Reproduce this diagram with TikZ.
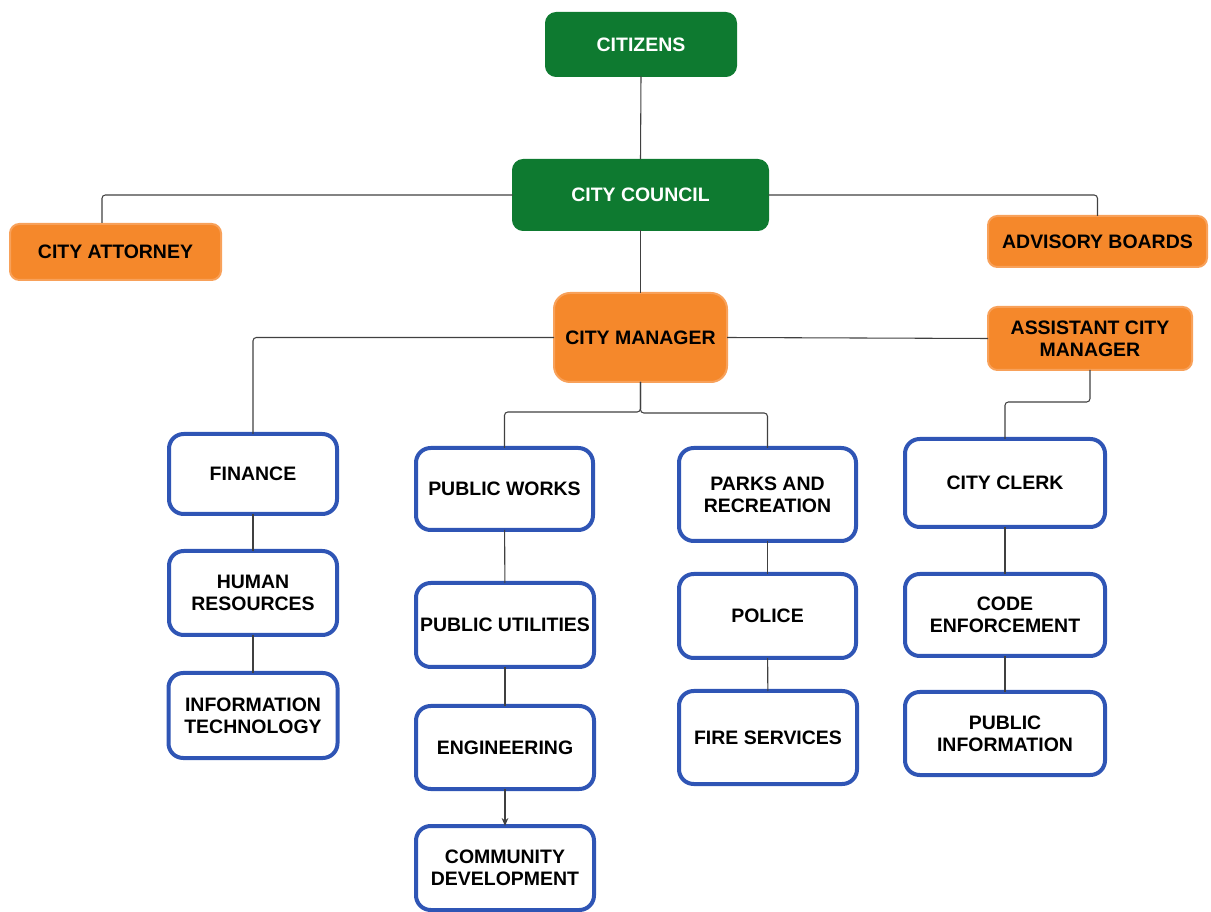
\documentclass[tikz,border=0pt]{standalone}
\usepackage{fontspec}
\setmainfont{Liberation Sans}
\usetikzlibrary{arrows.meta}
\definecolor{cgreen}{HTML}{0E7A30}
\definecolor{corange}{HTML}{F5882B}
\definecolor{corangeedge}{HTML}{F8A15A}
\definecolor{cblue}{HTML}{2F55B5}
\definecolor{cline}{HTML}{404040}
\begin{document}
\begin{tikzpicture}[x=0.75pt,y=-0.75pt,
  txt/.style={font=\fontsize{14.6pt}{16.5pt}\selectfont\bfseries, align=center, inner sep=0pt, outer sep=0pt},
  sz/.style 2 args={minimum width=#1*0.75pt, minimum height=#2*0.75pt},
  greenbox/.style={txt, fill=cgreen, text=white, rounded corners=8pt, draw=cgreen, line width=0.75pt},
  orangebox/.style={txt, fill=corange, text=black, draw=corangeedge, line width=1.5pt, rounded corners=7pt},
  bigorange/.style={orangebox, rounded corners=12pt},
  bluebox/.style={txt, fill=white, text=black, draw=cblue, line width=3pt, rounded corners=11pt},
  conn/.style={draw=cline, line width=0.8pt, rounded corners=2.5pt},
]
\useasboundingbox (0,0) rectangle (1211,912);

% top level
\node[greenbox, sz={191}{64}] (cit) at (641,44.5) {CITIZENS};
\node[greenbox, sz={256}{71}] (cou) at (640.5,195) {CITY COUNCIL};
\node[orangebox, sz={211}{56}] (att) at (115.5,252) {CITY ATTORNEY};
\node[orangebox, sz={219}{51}] (adv) at (1097.5,241.5) {ADVISORY BOARDS};
\node[bigorange, sz={173}{89}] (mgr) at (640.5,337.5) {CITY MANAGER};
\node[orangebox, sz={204}{63}] (asst) at (1090,338.5) {ASSISTANT CITY\\MANAGER};

% departments
\node[bluebox, sz={168}{80}] (fin) at (253,474) {FINANCE};
\node[bluebox, sz={168}{84}] (hr) at (253,593) {HUMAN\\RESOURCES};
\node[bluebox, sz={169}{85}] (it) at (253,715.5) {INFORMATION\\TECHNOLOGY};

\node[bluebox, sz={177}{82}] (pw) at (504.5,489) {PUBLIC WORKS};
\node[bluebox, sz={178}{84}] (pu) at (505,625) {PUBLIC UTILITIES};
\node[bluebox, sz={178}{83}] (eng) at (505,747.5) {ENGINEERING};
\node[bluebox, sz={178}{84}] (com) at (505,868) {COMMUNITY\\DEVELOPMENT};

\node[bluebox, sz={177}{93}] (par) at (767.5,494.5) {PARKS AND\\RECREATION};
\node[bluebox, sz={177}{84}] (pol) at (767.5,616) {POLICE};
\node[bluebox, sz={178}{93}] (fire) at (768,737.5) {FIRE SERVICES};

\node[bluebox, sz={200}{88}] (clk) at (1005,483) {CITY CLERK};
\node[bluebox, sz={200}{82}] (code) at (1005,615) {CODE\\ENFORCEMENT};
\node[bluebox, sz={200}{83}] (pinf) at (1005,733.5) {PUBLIC\\INFORMATION};

\coordinate (attin) at (102,223);

% connectors
\draw[conn] (cit.south) -- (cou.north);
\draw[conn] (cou.west) -| (attin);
\draw[conn] (cou.east) -| (adv.north);
\draw[conn] (cou.south) -- (mgr.north);
\draw[conn] (mgr.west) -| (fin.north);
\draw[conn] (mgr.east) -- (asst.west);
\draw[conn] (mgr.south) -- ++(0,30) -| (pw.north);
\draw[conn] (mgr.south) -- ++(0,31) -| (par.north);
\draw[conn] (asst.south) -- ++(0,32) -| (clk.north);

\draw[conn] (fin) -- (hr);
\draw[conn] (hr) -- (it);
\draw[conn] (pw) -- (pu);
\draw[conn] (pu) -- (eng);
\draw[conn, -{Stealth[length=6pt,width=5pt]}] (eng) -- (com);
\draw[conn] (par) -- (pol);
\draw[conn] (pol) -- (fire);
\draw[conn] (clk) -- (code);
\draw[conn] (code) -- (pinf);
\end{tikzpicture}
\end{document}
